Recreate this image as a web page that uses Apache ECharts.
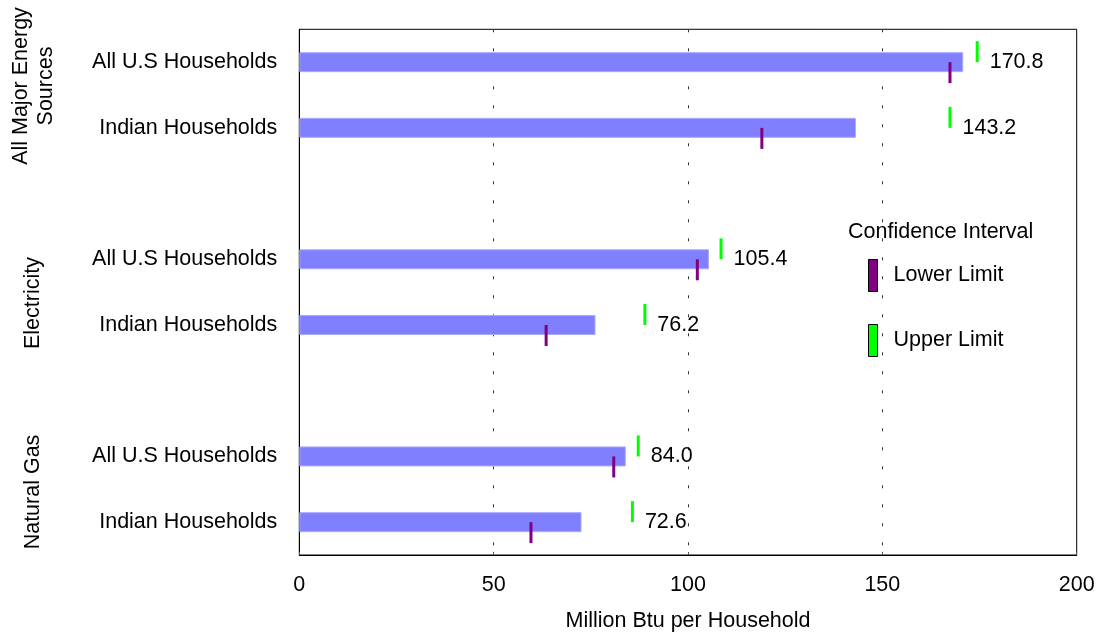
<!DOCTYPE html>
<html><head><meta charset="utf-8">
<script src="https://cdn.jsdelivr.net/npm/echarts@6/dist/echarts.min.js"></script>
<style>html,body{margin:0;padding:0;background:#fff}#c{width:1099px;height:637px}</style>
</head><body><div id="c"></div>
<script>
// ---- data ----
const groups = ['All Major Energy\nSources', 'Electricity', 'Natural Gas'];
const households = ['All U.S Households', 'Indian Households'];
const means = [[170.8, 143.2], [105.4, 76.2], [84.0, 72.6]];
const lowerLimits = [[167.4, 119.0], [102.4, 63.5], [80.9, 59.6]];
const upperLimits = [[174.4, 167.4], [108.5, 88.9], [87.2, 85.7]];
const xTicks = [0, 50, 100, 150, 200];
const xTitle = 'Million Btu per Household';
const legendTitle = 'Confidence Interval';
const seriesNames = ['Lower Limit', 'Upper Limit'];

// ---- build rows (spacer row between groups) ----
const categories = [], barData = [], lowData = [], upData = [], labelData = [];
groups.forEach((g, gi) => {
  if (gi > 0) { categories.push(''); barData.push('-'); }
  households.forEach((h, hi) => {
    const idx = categories.length;
    categories.push(h);
    barData.push(means[gi][hi]);
    lowData.push([lowerLimits[gi][hi], idx]);
    upData.push([upperLimits[gi][hi], idx]);
    labelData.push([upperLimits[gi][hi], idx, means[gi][hi]]);
  });
});

const FONT = 'Liberation Sans, Arial, Helvetica, sans-serif';
const FS = 21.5;
const groupPos = [[34, 86], [33, 303], [33, 492]];

const chart = echarts.init(document.getElementById('c'), null, {renderer: 'canvas'});
chart.setOption({
  animation: false,
  backgroundColor: '#fff',
  textStyle: {fontFamily: FONT},
  title: {
    text: legendTitle, left: 848, top: 221, padding: 0,
    textStyle: {fontSize: FS, fontWeight: 'normal', color: '#000', fontFamily: FONT}
  },
  legend: {
    data: seriesNames, orient: 'vertical', left: 868, top: 259, padding: 0,
    itemWidth: 9, itemHeight: 32, itemGap: 32, icon: 'rect', selectedMode: false,
    itemStyle: {borderColor: '#000', borderWidth: 1},
    textStyle: {fontSize: FS, color: '#000', fontFamily: FONT, padding: [4, 0, 0, 11]}
  },
  grid: {
    left: 299.3, right: 22.3, top: 29.3, bottom: 79.3,
    show: true, borderColor: '#000', borderWidth: 1, backgroundColor: 'transparent'
  },
  xAxis: {
    type: 'value', min: xTicks[0], max: xTicks[xTicks.length - 1],
    interval: xTicks[1] - xTicks[0],
    name: xTitle, nameLocation: 'middle', nameGap: 55,
    nameTextStyle: {fontSize: FS, color: '#000', fontFamily: FONT},
    axisLine: {show: true, lineStyle: {color: '#000', width: 1}},
    axisTick: {show: true, inside: true, length: 3, lineStyle: {color: '#555'}},
    axisLabel: {fontSize: FS, color: '#000', margin: 19, fontFamily: FONT},
    splitLine: {show: true, lineStyle: {color: '#333', width: 1, type: [3, 16]}}
  },
  yAxis: {
    type: 'category', data: categories, inverse: true,
    axisLine: {show: true, lineStyle: {color: '#000', width: 1}},
    axisTick: {show: false},
    axisLabel: {fontSize: FS, color: '#000', margin: 22, fontFamily: FONT, interval: 0,
                padding: [4, 0, 0, 0]},
    splitLine: {show: false}
  },
  graphic: groups.map((g, i) => ({
    type: 'text', x: groupPos[i][0], y: groupPos[i][1], rotation: Math.PI / 2,
    style: {text: g, fontSize: FS, fontFamily: FONT, fill: '#000',
            align: 'center', verticalAlign: 'middle', lineHeight: 25}
  })),
  series: [
    {
      type: 'bar', data: barData, barWidth: 20, z: 2,
      itemStyle: {color: '#8080ff', borderColor: '#a9a9ff', borderWidth: 1}
    },
    {
      name: seriesNames[0], type: 'scatter', data: lowData, z: 3,
      symbol: 'rect', symbolSize: [3, 21], symbolOffset: [0, '50%'],
      itemStyle: {color: '#800080', opacity: 1}
    },
    {
      name: seriesNames[1], type: 'scatter', data: upData, z: 3,
      symbol: 'rect', symbolSize: [3, 21], symbolOffset: [0, '-50%'],
      itemStyle: {color: '#00ff00', opacity: 1}
    },
    {
      name: 'labels', type: 'scatter', data: labelData, z: 4,
      symbol: 'rect', symbolSize: 1, silent: true,
      itemStyle: {color: 'rgba(0,0,0,0)', opacity: 1},
      label: {show: true, position: 'right', distance: 12, opacity: 1,
              formatter: p => p.value[2].toFixed(1),
              fontSize: FS, color: '#000', fontFamily: FONT, padding: [2, 0, 0, 0]}
    }
  ]
});
</script>
</body></html>
